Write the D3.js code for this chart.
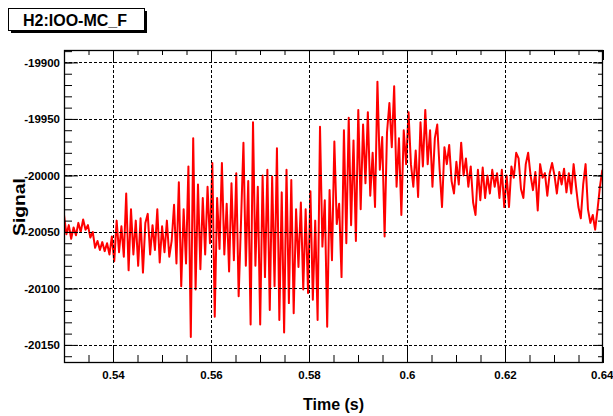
<!DOCTYPE html>
<html>
<head>
<meta charset="utf-8">
<script src="https://cdn.jsdelivr.net/npm/d3@7"></script>
<style>
  html, body { margin: 0; padding: 0; background: #fff; }
  svg { display: block; }
  text { font-family: "Liberation Sans", Arial, Helvetica, sans-serif; font-weight: bold; fill: #000; }
</style>
</head>
<body>
<svg id="chart" width="613" height="416"></svg>
<script>
// Channel and axis labels
const channelName = "H2:IOO-MC_F";
const xTitle = "Time (s)";
const yTitle = "Signal";

// Time axis
const startTime = 0.53;
const sampleRate = 2048;          // samples per second
const xDomain = [0.53, 0.64];
const xTicks = [0.54, 0.56, 0.58, 0.60, 0.62, 0.64];
const xTickLabels = ["0.54", "0.56", "0.58", "0.6", "0.62", "0.64"];

// Signal axis
const yDomain = [-20166, -19889];
const yTicks = [-19900, -19950, -20000, -20050, -20100, -20150];
const yTickLabels = ["-19900", "-19950", "-20000", "-20050", "-20100", "-20150"];

// Signal samples starting at startTime
const signal = [
  -20035, -20052, -20044, -20056, -20046, -20053, -20042, -20050, -20039, -20048,
  -20044, -20055, -20050, -20064, -20058, -20066, -20059, -20067, -20060, -20070,
  -20054, -20076, -20040, -20068, -20045, -20072, -20016, -20084, -20030, -20070,
  -20040, -20080, -20038, -20086, -20042, -20034, -20070, -20044, -20066, -20030,
  -20077, -20045, -20068, -20040, -20072, -20058, -20026, -20078, -20006, -20098,
  -20030, -20078, -19992, -20143, -19967, -20101, -20008, -20083, -20020, -20070,
  -20010, -20060, -19989, -20125, -20020, -20065, -19989, -20070, -20025, -20085,
  -20007, -20075, -19998, -20107, -20040, -19971, -20080, -20005, -20132, -19953,
  -20080, -20010, -20132, -20000, -20090, -19995, -20119, -20001, -20098, -19976,
  -20128, -20015, -20139, -19995, -20113, -20004, -20122, -20030, -20081, -20024,
  -20101, -20030, -20104, -20014, -20110, -20040, -20128, -19957, -20063, -20022,
  -20134, -20013, -20075, -19970, -20043, -20025, -20090, -19960, -20060, -19949,
  -20044, -19969, -20058, -19942, -20030, -19955, -20007, -19944, -20018, -19980,
  -20028, -19917, -19995, -19966, -20054, -19962, -19936, -19975, -19921, -20010,
  -19967, -20035, -19960, -19990, -19944, -19990, -20010, -19978, -20019, -19953,
  -19992, -19942, -19990, -19960, -20010, -19967, -19955, -19995, -20028, -19975,
  -19990, -19973, -20005, -20016, -19988, -20008, -19971, -20000, -19985, -20010,
  -19992, -20024, -20035, -19995, -20022, -19993, -20020, -20000, -20016, -19995,
  -20010, -19998, -20020, -19995, -20028, -20000, -20028, -19992, -20002, -19980,
  -19985, -20012, -20020, -19990, -19980, -20000, -20013, -19997, -20031, -19990,
  -20002, -19998, -20018, -19998, -19989, -20000, -20016, -19997, -20008, -19994,
  -20015, -19998, -20016, -19990, -20010, -20028, -20038, -20008, -19990, -20030,
  -20042, -20035, -20048, -20030, -20010, -19995
];

const svg = d3.select("#chart");
const frame = { left: 64, right: 603, top: 50, bottom: 363 };

const x = d3.scaleLinear().domain(xDomain).range([frame.left, frame.right]);
const y = d3.scaleLinear().domain(yDomain).range([frame.bottom, frame.top]);

const points = signal.map((v, i) => ({ t: startTime + i / sampleRate, v }));

// Clip region for the trace
svg.append("defs").append("clipPath").attr("id", "frameClip")
  .append("rect")
  .attr("x", frame.left).attr("y", frame.top)
  .attr("width", frame.right - frame.left).attr("height", frame.bottom - frame.top);

// Trace
svg.append("path")
  .datum(points)
  .attr("clip-path", "url(#frameClip)")
  .attr("fill", "none")
  .attr("stroke", "#ff0000")
  .attr("stroke-width", 2)
  .attr("stroke-linejoin", "round")
  .attr("d", d3.line().x(d => x(d.t)).y(d => y(d.v)));

// Dashed grid
const grid = svg.append("g").attr("stroke", "#000").attr("stroke-width", 1)
  .attr("stroke-dasharray", "3,2");
grid.selectAll(".gx").data(xTicks.filter(t => t < xDomain[1] - 1e-9)).join("line")
  .attr("x1", d => Math.round(x(d)) + 0.5).attr("x2", d => Math.round(x(d)) + 0.5)
  .attr("y1", frame.top).attr("y2", frame.bottom);
grid.selectAll(".gy").data(yTicks).join("line")
  .attr("y1", d => Math.round(y(d)) + 0.5).attr("y2", d => Math.round(y(d)) + 0.5)
  .attr("x1", frame.left).attr("x2", frame.right);

// Minor tick positions
const xMinor = d3.range(0, 23).map(k => 0.53 + k * 0.005).filter(t => t <= xDomain[1] + 1e-9);
const yMinor = d3.range(0, 28).map(k => -20160 + k * 10).filter(v => v >= yDomain[0] && v <= yDomain[1]);

function styleAxis(g) {
  g.select(".domain").remove();
  g.selectAll("line").attr("stroke", "#000").attr("stroke-width", 1);
  g.selectAll("text").attr("font-size", "11.5px").attr("font-weight", "bold")
    .attr("font-family", "'Liberation Sans', Arial, sans-serif");
}

// Bottom axis: major ticks + labels, then minor ticks
const bottomAxis = svg.append("g").attr("transform", `translate(0,${frame.bottom})`)
  .call(d3.axisBottom(x).tickValues(xTicks).tickFormat((d, i) => xTickLabels[i])
    .tickSize(-16).tickPadding(8))
  .call(styleAxis);
// the last label sits at the window edge: keep it fully inside
bottomAxis.selectAll(".tick text").filter(d => d >= xDomain[1] - 1e-9)
  .attr("text-anchor", "end").attr("x", 10);
svg.append("g").attr("transform", `translate(0,${frame.bottom})`)
  .call(d3.axisBottom(x).tickValues(xMinor).tickFormat("").tickSize(-8))
  .call(styleAxis);

// Top axis ticks
svg.append("g").attr("transform", `translate(0,${frame.top})`)
  .call(d3.axisTop(x).tickValues(xTicks).tickFormat("").tickSize(-10))
  .call(styleAxis);
svg.append("g").attr("transform", `translate(0,${frame.top})`)
  .call(d3.axisTop(x).tickValues(xMinor).tickFormat("").tickSize(-5))
  .call(styleAxis);

// Left axis: major ticks + labels, then minor ticks
svg.append("g").attr("transform", `translate(${frame.left},0)`)
  .call(d3.axisLeft(y).tickValues(yTicks).tickFormat((d, i) => yTickLabels[i])
    .tickSize(-14).tickPadding(4))
  .call(styleAxis);
svg.append("g").attr("transform", `translate(${frame.left},0)`)
  .call(d3.axisLeft(y).tickValues(yMinor).tickFormat("").tickSize(-8))
  .call(styleAxis);

// Right axis ticks
svg.append("g").attr("transform", `translate(${frame.right},0)`)
  .call(d3.axisRight(y).tickValues(yTicks).tickFormat("").tickSize(-10))
  .call(styleAxis);
svg.append("g").attr("transform", `translate(${frame.right},0)`)
  .call(d3.axisRight(y).tickValues(yMinor).tickFormat("").tickSize(-5))
  .call(styleAxis);

// Frame
svg.append("rect")
  .attr("x", frame.left + 0.5).attr("y", frame.top + 0.5)
  .attr("width", frame.right - frame.left - 1).attr("height", frame.bottom - frame.top - 1)
  .attr("fill", "none").attr("stroke", "#000").attr("stroke-width", 1.3);

// Axis titles
svg.append("text")
  .attr("x", (frame.left + frame.right) / 2).attr("y", 410)
  .attr("text-anchor", "middle").attr("font-size", "16px")
  .text(xTitle);

svg.append("text")
  .attr("transform", "translate(25,207) rotate(-90)")
  .attr("text-anchor", "middle").attr("font-size", "16px")
  .attr("textLength", 58).attr("lengthAdjust", "spacingAndGlyphs")
  .text(yTitle);

// Channel name box with drop shadow
svg.append("rect").attr("x", 11).attr("y", 11).attr("width", 136).attr("height", 22).attr("fill", "#000");
svg.append("rect").attr("x", 8.5).attr("y", 8.5).attr("width", 136).attr("height", 22)
  .attr("fill", "#fff").attr("stroke", "#000").attr("stroke-width", 1);
svg.append("text")
  .attr("x", 75).attr("y", 25.5)
  .attr("text-anchor", "middle").attr("font-size", "16px")
  .text(channelName);
</script>
</body>
</html>
